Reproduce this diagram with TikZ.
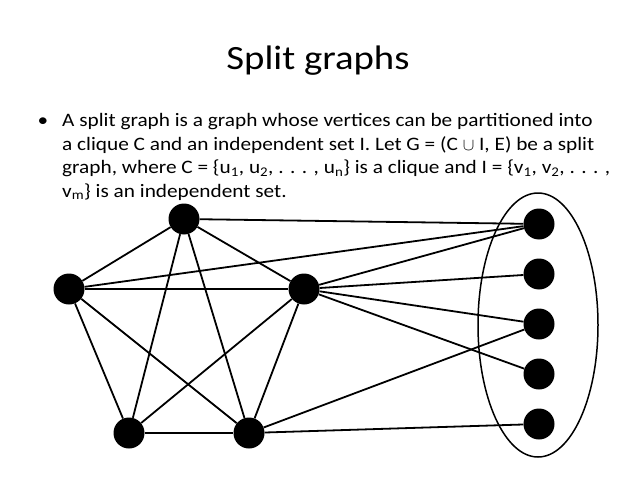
\documentclass[tikz,border=0pt]{standalone}
\usepackage{fontspec}
\setmainfont{Carlito}
\newfontfamily\bodyfont[FakeStretch=1.12]{Carlito}
\newfontfamily\titlefont[FakeStretch=1.14]{Carlito}
\usetikzlibrary{shapes.geometric}
\begin{document}
\begin{tikzpicture}[x=1pt,y=-1pt,
  vtx/.style={circle,fill=black,minimum size=31pt,inner sep=0pt},
  edge/.style={line width=1.8pt,black},
  bodyline/.style={anchor=base west,inner sep=0pt,font=\bodyfont\fontsize{19}{24}\selectfont},
  setshape/.style={draw,ellipse,line width=1.5pt,minimum width=120pt,minimum height=264pt,inner sep=0pt}]
\useasboundingbox (0,0) rectangle (638,479);
\node[anchor=base,inner sep=0pt,font=\titlefont\fontsize{34}{40}\selectfont] (title) at (318,69) {Split graphs};
\node[anchor=base,inner sep=0pt,font=\bodyfont\fontsize{19}{24}\selectfont] (bul) at (43,126.5) {•};
\node[bodyline] (l1) at (62,126.5) {A split graph is a graph whose vertices can be partitioned into};
\node[bodyline] (l2) at (62,150) {a clique C and an independent set I. Let G = (C $\cup$ I, E) be a split};
\node[bodyline] (l3) at (62,173.5) {graph, where C = \{u\textsubscript{1}, u\textsubscript{2}, . . . , u\textsubscript{n}\} is a clique and I = \{v\textsubscript{1}, v\textsubscript{2}, . . . ,};
\node[bodyline] (l4) at (62,197) {v\textsubscript{m}\} is an independent set.};
\node[setshape] (Iset) at (538,325) {};
\node[vtx] (t) at (184,219) {};
\node[vtx] (l) at (69,289) {};
\node[vtx] (r) at (304,289) {};
\node[vtx] (bl) at (129,433) {};
\node[vtx] (br) at (249,433) {};
\node[vtx] (v1) at (539,224) {};
\node[vtx] (v2) at (539,274) {};
\node[vtx] (v3) at (539,324) {};
\node[vtx] (v4) at (539,374) {};
\node[vtx] (v5) at (539,424) {};
\draw[edge] (t) -- (l);
\draw[edge] (t) -- (r);
\draw[edge] (t) -- (bl);
\draw[edge] (t) -- (br);
\draw[edge] (l) -- (r);
\draw[edge] (l) -- (bl);
\draw[edge] (l) -- (br);
\draw[edge] (r) -- (bl);
\draw[edge] (r) -- (br);
\draw[edge] (bl) -- (br);
\draw[edge] (t) -- (v1);
\draw[edge] (l) -- (v1);
\draw[edge] (r) -- (v1);
\draw[edge] (r) -- (v2);
\draw[edge] (r) -- (v3);
\draw[edge] (r) -- (v4);
\draw[edge] (br) -- (v3);
\draw[edge] (br) -- (v5);
\end{tikzpicture}
\end{document}
